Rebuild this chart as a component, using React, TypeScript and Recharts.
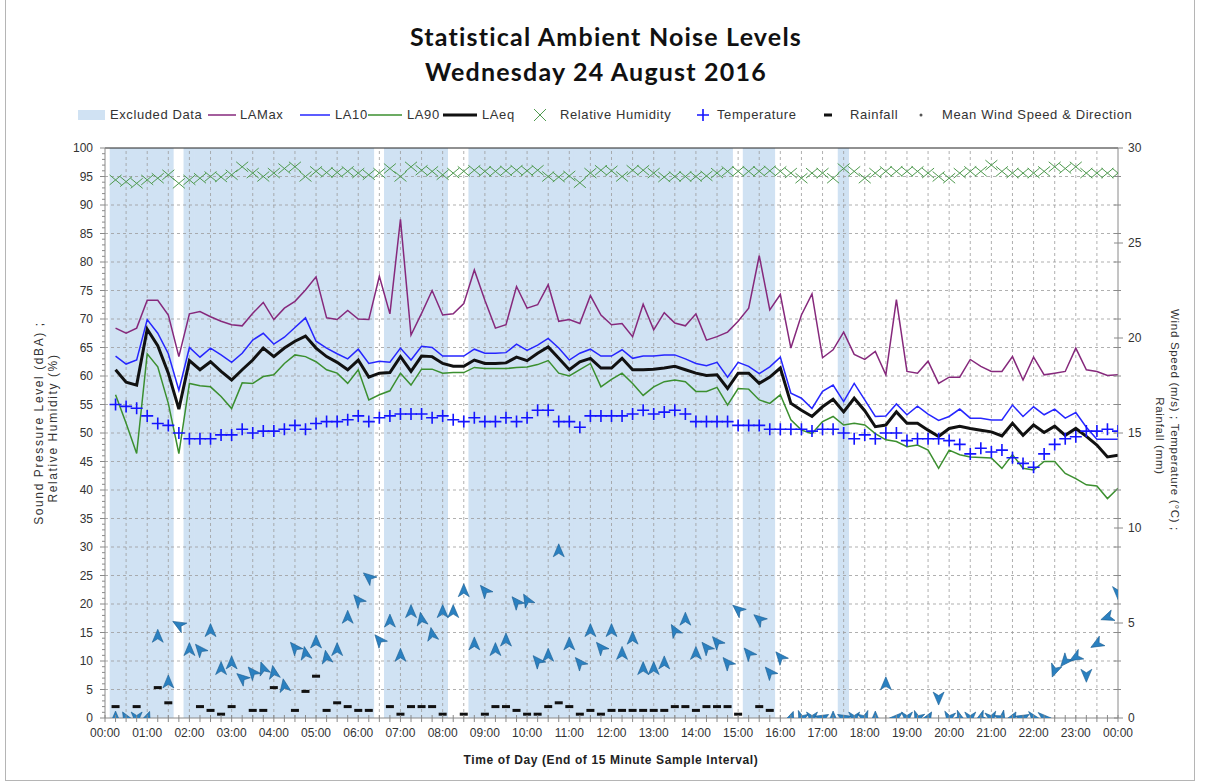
import React from 'react';
import { ComposedChart, Line, Bar, Scatter, XAxis, YAxis, ReferenceLine } from 'recharts';

// quarter-hour intervals, value stored at end of each 15 min sample (1..96)
const laMax = [
  68.4, 67.5, 68.4, 73.3, 73.3, 70.7, 63.4, 70.9, 71.3, 70.4, 69.6, 69.0, 68.8, 71.0, 72.9, 69.9,
  71.9, 73.1, 75.1, 77.4, 70.2, 69.9, 71.5, 70.0, 69.9, 77.5, 70.9, 87.5, 67.2, 71.0, 75.0, 70.7,
  70.9, 72.7, 78.6, 73.3, 68.4, 69.0, 75.7, 71.9, 72.5, 76.0, 69.6, 69.9, 69.2, 74.1, 70.7, 69.0,
  69.2, 66.9, 72.6, 68.1, 71.1, 69.3, 68.8, 70.9, 66.3, 66.9, 67.7, 69.6, 71.9, 81.1, 71.6, 74.3,
  64.9, 70.7, 74.4, 63.2, 64.6, 67.7, 63.8, 62.9, 64.3, 60.2, 73.4, 60.8, 60.5, 62.6, 58.7, 59.8,
  59.8, 62.9, 61.7, 60.8, 60.8, 63.4, 59.3, 63.3, 60.2, 60.5, 60.8, 64.9, 61.1, 60.8, 60.1, 60.2,
];
const la10 = [
  63.5, 62.1, 62.8, 69.9, 67.5, 63.9, 57.5, 65.0, 63.3, 64.9, 63.7, 62.4, 64.0, 66.3, 67.5, 65.6,
  66.8, 68.5, 70.2, 66.1, 64.9, 63.9, 63.0, 64.7, 62.2, 62.6, 62.4, 64.9, 62.8, 65.2, 65.0, 63.5,
  63.5, 63.5, 64.7, 64.0, 64.0, 64.1, 65.6, 64.5, 65.4, 66.6, 64.9, 62.8, 64.0, 64.7, 63.5, 63.5,
  64.6, 63.1, 63.5, 63.5, 63.7, 63.7, 63.0, 62.2, 61.8, 62.4, 59.8, 62.4, 61.7, 60.4, 61.6, 63.3,
  57.0, 56.1, 54.3, 57.3, 58.4, 55.5, 58.7, 55.8, 52.9, 53.0, 55.1, 53.2, 54.7, 53.3, 52.2, 52.9,
  54.2, 52.6, 52.6, 52.3, 52.3, 54.9, 52.9, 54.6, 53.2, 54.2, 52.6, 53.6, 51.0, 48.9, 48.9, 48.9,
];
const la90 = [
  56.7, 51.7, 46.4, 63.9, 61.6, 55.2, 46.4, 58.7, 58.3, 58.1, 56.4, 54.3, 58.8, 58.7, 59.9, 60.2,
  62.2, 63.7, 63.4, 62.5, 61.1, 60.5, 58.7, 61.1, 55.8, 56.7, 57.4, 60.5, 58.4, 61.2, 61.2, 60.5,
  60.6, 60.6, 61.5, 61.3, 61.3, 61.3, 61.5, 61.6, 62.0, 62.7, 60.5, 60.0, 61.1, 62.2, 58.1, 59.4,
  60.5, 58.7, 56.6, 58.1, 59.0, 59.3, 59.0, 57.3, 57.3, 58.0, 54.9, 57.8, 57.7, 55.8, 55.2, 56.7,
  52.3, 50.5, 49.9, 52.0, 52.9, 51.4, 51.7, 51.4, 49.9, 48.8, 48.5, 47.6, 47.9, 47.0, 43.8, 47.0,
  46.2, 45.8, 45.7, 45.6, 43.8, 46.2, 43.8, 43.5, 45.0, 45.0, 42.9, 42.0, 40.9, 40.7, 38.5, 40.3,
];
const laEq = [
  61.1, 58.9, 58.4, 68.2, 65.3, 60.5, 54.2, 62.7, 61.1, 62.5, 60.8, 59.3, 61.1, 62.8, 64.9, 63.4,
  64.9, 66.1, 67.0, 64.9, 63.4, 62.4, 61.1, 62.8, 59.8, 60.5, 60.6, 63.4, 60.8, 63.5, 63.4, 62.2,
  61.7, 61.7, 62.8, 62.2, 62.2, 62.3, 63.3, 62.7, 64.0, 65.1, 63.1, 61.1, 62.5, 63.1, 61.4, 61.4,
  63.1, 61.1, 61.1, 61.2, 61.4, 61.7, 61.1, 60.5, 60.1, 60.2, 57.8, 60.5, 60.5, 58.7, 59.8, 61.4,
  55.2, 54.0, 52.9, 54.6, 55.9, 53.7, 56.1, 53.9, 51.1, 51.4, 53.7, 51.7, 51.7, 50.5, 49.4, 50.8,
  51.2, 50.8, 50.5, 50.2, 49.5, 51.7, 49.6, 51.4, 50.1, 51.2, 49.6, 50.8, 49.4, 47.9, 45.8, 46.1,
];
const humidity = [
  94.4, 94.1, 93.8, 94.4, 94.7, 95.3, 93.8, 94.4, 94.7, 95.0, 94.9, 95.3, 96.7, 95.6, 95.0, 95.6,
  96.4, 96.7, 95.0, 95.9, 95.7, 95.7, 95.9, 95.6, 95.3, 95.6, 96.4, 95.0, 96.7, 96.1, 95.9, 95.3,
  95.6, 95.9, 96.1, 95.9, 95.9, 96.0, 96.1, 96.0, 96.1, 95.0, 94.9, 95.1, 93.9, 95.6, 96.1, 96.0,
  95.0, 96.1, 96.1, 95.6, 94.9, 95.0, 95.0, 95.0, 95.1, 95.6, 95.9, 95.9, 95.9, 95.9, 96.0, 95.9,
  95.6, 94.7, 95.6, 95.6, 94.7, 96.4, 95.9, 94.7, 95.6, 95.9, 95.9, 95.9, 95.9, 95.6, 95.0, 94.7,
  95.6, 95.9, 95.9, 97.0, 95.9, 95.6, 95.6, 95.6, 95.9, 96.7, 96.4, 96.7, 95.6, 95.6, 95.6, 95.6,
];
const temperature = [
  16.5, 16.4, 16.3, 15.9, 15.5, 15.4, 15.0, 14.7, 14.7, 14.7, 14.9, 14.9, 15.2, 15.0, 15.1, 15.1,
  15.2, 15.4, 15.2, 15.5, 15.6, 15.6, 15.7, 15.9, 15.6, 15.8, 15.9, 16.0, 16.0, 16.0, 15.8, 15.9,
  15.7, 15.6, 15.8, 15.6, 15.6, 15.8, 15.6, 15.8, 16.2, 16.2, 15.6, 15.6, 15.3, 15.9, 15.9, 15.9,
  15.9, 16.0, 16.2, 16.0, 16.1, 16.2, 16.0, 15.6, 15.6, 15.6, 15.6, 15.4, 15.4, 15.4, 15.2, 15.2,
  15.2, 15.2, 15.1, 15.2, 15.2, 15.0, 14.7, 14.9, 14.7, 15.0, 15.0, 14.6, 14.7, 14.7, 14.7, 14.6,
  14.4, 13.9, 14.2, 14.0, 14.1, 13.7, 13.4, 13.2, 13.9, 14.4, 14.7, 14.8, 15.1, 15.1, 15.2, 15.1,
];
const windSpeed = [
  0, 0, 0, 0, 4.3, 1.9, 4.9, 3.6, 3.6, 4.6, 2.6, 2.9, 2.1, 2.4, 2.6, 2.4,
  1.7, 3.7, 3.4, 4.0, 3.2, 3.6, 5.3, 6.2, 7.4, 4.1, 5.1, 3.3, 5.6, 5.2, 4.4, 5.6,
  5.6, 6.7, 3.9, 6.7, 3.6, 4.1, 6.1, 6.2, 3.0, 3.3, 8.8, 3.9, 2.9, 4.6, 3.7, 4.6,
  3.4, 4.2, 2.6, 2.6, 2.9, 4.6, 5.2, 3.4, 3.7, 4.0, 2.9, 5.7, 3.4, 5.2, 2.4, 3.2,
  0, 0, 0, 0, 0, 0, 0, 0, 0, 1.8, 0, 0, 0, 0, 1.05, 0,
  0, 0, 0, 0, 0, 0, 0, 0, 0, 2.5, 3.0, 3.2, 2.25, 3.9, 5.3, 6.6,
];
// direction the arrow points, degrees clockwise from up
const windDir = [
  0, 330, 180, 20, 0, 0, 300, 0, 320, 0, 0, 0, 310, 320, 340, 350,
  350, 320, 350, 0, 350, 0, 0, 320, 310, 320, 0, 0, 0, 350, 350, 0,
  0, 0, 0, 320, 0, 0, 320, 330, 320, 0, 0, 0, 320, 0, 320, 0,
  0, 0, 0, 0, 0, 330, 0, 0, 320, 320, 320, 310, 320, 310, 320, 320,
  20, 200, 180, 60, 0, 300, 180, 160, 0, 0, 270, 180, 200, 30, 180, 190,
  120, 180, 240, 170, 150, 30, 60, 100, 90, 200, 220, 240, 180, 240, 250, 180,
];
// rainfall (mm) as [interval, mm]
const rainfall: [number, number][] = [
  [1, 0.6], [3, 0.6], [5, 1.6], [6, 0.8], [9, 0.6], [10, 0.4], [11, 0.2], [12, 0.6],
  [14, 0.4], [15, 0.4], [16, 1.6], [18, 0.4], [19, 1.4], [20, 2.2], [21, 0.4], [22, 0.8],
  [23, 0.6], [24, 0.4], [25, 0.4], [27, 0.6], [28, 0.2], [29, 0.6], [30, 0.6], [31, 0.6],
  [32, 0.2], [34, 0.2], [36, 0.2], [37, 0.6], [38, 0.6], [39, 0.4], [40, 0.2], [41, 0.2],
  [42, 0.6], [43, 0.8], [44, 0.6], [45, 0.2], [46, 0.4], [47, 0.2], [48, 0.4], [49, 0.4],
  [50, 0.4], [51, 0.4], [52, 0.4], [53, 0.4], [54, 0.6], [55, 0.6], [56, 0.4], [57, 0.6],
  [58, 0.6], [59, 0.6], [60, 0.2], [62, 0.6], [63, 0.4],
];
// intervals flagged as excluded data
const excluded = [
  1, 2, 3, 4, 5, 6, 8, 9, 10, 11, 12, 13, 14, 15, 16, 17, 18, 19, 20, 21, 22, 23, 24, 25,
  27, 28, 29, 30, 31, 32, 35, 36, 37, 38, 39, 40, 41, 42, 43, 44, 45, 46, 47, 48, 49, 50,
  51, 52, 53, 54, 55, 56, 57, 58, 59, 61, 62, 63, 70,
];

const hourLabels = [
  '00:00', '01:00', '02:00', '03:00', '04:00', '05:00', '06:00', '07:00', '08:00', '09:00',
  '10:00', '11:00', '12:00', '13:00', '14:00', '15:00', '16:00', '17:00', '18:00', '19:00',
  '20:00', '21:00', '22:00', '23:00', '00:00',
];
const leftMajor = [0, 5, 10, 15, 20, 25, 30, 35, 40, 45, 50, 55, 60, 65, 70, 75, 80, 85, 90, 95, 100];
const rightMajor = [0, 5, 10, 15, 20, 25, 30];

const C = {
  band: '#d0e2f3',
  laMax: '#86297c',
  la10: '#2626ff',
  la90: '#3b8f2f',
  laEq: '#111111',
  rh: '#4f9a4f',
  temp: '#1414ff',
  wind: '#2a80c0',
  grid: '#9c9c9c',
  axis: '#8a8a8a',
  text: '#333333',
};
const FONT = "'Liberation Sans', Arial, sans-serif";

const rows = laMax.map((v, k) => ({
  i: k + 1,
  laMax: v,
  la10: la10[k],
  la90: la90[k],
  laEq: laEq[k],
  excl: excluded.includes(k + 1) ? 100 : null,
}));
const rhPoints = humidity.map((v, k) => ({ i: k + 1, rh: v }));
const tempPoints = temperature.map((v, k) => ({ i: k + 1, temp: v }));
const windPoints = windSpeed.map((v, k) => ({ i: k + 1, wind: v, dir: windDir[k] }));
const rainPoints = rainfall.map(([i, mm]) => ({ i, rain: mm }));

const quarterTicks = rows.map((r) => r.i).concat([0]).sort((a, b) => a - b);
const halfHours = quarterTicks.filter((q) => q % 2 === 0 && q > 0 && q < 96);
const leftTicks = Array.from({ length: 101 }, (_, k) => k);
const rightTicks = Array.from(
  new Set(rightMajor.concat(Array.from({ length: 21 }, (_, k) => +(k * 1.5).toFixed(1))))
).sort((a, b) => a - b);

function XTick({ x, y, payload }: any) {
  const q = payload.value;
  return (
    <g>
      <line x1={x} x2={x} y1={y - 3} y2={y + 4} stroke={C.axis} />
      {q % 4 === 0 && (
        <text x={x} y={y + 19} textAnchor="middle" fontSize={12} fill={C.text} fontFamily={FONT}>
          {hourLabels[q / 4]}
        </text>
      )}
    </g>
  );
}

function LeftTick({ x, y, payload }: any) {
  const v = payload.value;
  const major = v % 5 === 0;
  return (
    <g>
      <line x1={x - (major ? 5 : 3)} x2={x} y1={y} y2={y} stroke={C.axis} />
      {major && (
        <text x={x - 12} y={y + 4} textAnchor="end" fontSize={12} fill={C.text} fontFamily={FONT}>
          {v}
        </text>
      )}
    </g>
  );
}

function RightTick({ x, y, payload }: any) {
  const v = payload.value;
  const major = rightMajor.includes(v);
  return (
    <g>
      <line x1={x - 4} x2={x + (major ? 5 : 3)} y1={y} y2={y} stroke={C.axis} />
      {major && (
        <text x={x + 10} y={y + 4} textAnchor="start" fontSize={12} fill={C.text} fontFamily={FONT}>
          {v}
        </text>
      )}
    </g>
  );
}

// excluded-interval column, widened a touch so neighbours join up
function BandBar({ x, y, width, height }: any) {
  if (x == null || !height) return <g />;
  return <rect x={x - 0.6} y={y} width={width + 1.2} height={height} fill={C.band} />;
}

function CrossMark({ cx, cy }: any) {
  if (cx == null || cy == null) return <g />;
  return (
    <path
      d={`M${cx - 6},${cy - 5}L${cx + 6},${cy + 5}M${cx - 6},${cy + 5}L${cx + 6},${cy - 5}`}
      stroke={C.rh}
      strokeWidth={1}
      fill="none"
    />
  );
}

function PlusMark({ cx, cy }: any) {
  if (cx == null || cy == null) return <g />;
  return (
    <path
      d={`M${cx - 6},${cy}L${cx + 6},${cy}M${cx},${cy - 6}L${cx},${cy + 6}`}
      stroke={C.temp}
      strokeWidth={1.6}
      fill="none"
    />
  );
}

function RainMark({ cx, cy }: any) {
  if (cx == null || cy == null) return <g />;
  return <rect x={cx - 4} y={cy - 1.5} width={8} height={3} fill="#111" />;
}

function WindArrow({ cx, cy, payload }: any) {
  if (cx == null || cy == null) return <g />;
  return (
    <path
      d="M0,-7 L5.5,6 L0,2.5 L-5.5,6 Z"
      transform={`translate(${cx},${cy}) rotate(${payload.dir})`}
      fill={C.wind}
      stroke="#1d5f93"
      strokeWidth={0.6}
    />
  );
}

function Legend() {
  const ty = 119;
  const t = (x: number, s: string) => (
    <text x={x} y={ty} fontSize={13} letterSpacing={0.6} fill={C.text} fontFamily={FONT}>
      {s}
    </text>
  );
  return (
    <svg width={1206} height={40} style={{ position: 'absolute', left: 0, top: 95 }} viewBox="0 95 1206 40">
      <rect x={78} y={110} width={27} height={10} fill={C.band} />
      {t(110, 'Excluded Data')}
      <line x1={208} x2={236} y1={115} y2={115} stroke={C.laMax} strokeWidth={1.5} />
      {t(240, 'LAMax')}
      <line x1={300} x2={330} y1={115} y2={115} stroke={C.la10} strokeWidth={1.5} />
      {t(335, 'LA10')}
      <line x1={368} x2={402} y1={115} y2={115} stroke={C.la90} strokeWidth={1.5} />
      {t(407, 'LA90')}
      <line x1={443} x2={477} y1={115} y2={115} stroke={C.laEq} strokeWidth={3} />
      {t(482, 'LAeq')}
      <path d="M534,109L546,121M534,121L546,109" stroke={C.rh} strokeWidth={1} />
      {t(560, 'Relative Humidity')}
      <path d="M697,115L709,115M703,109L703,121" stroke={C.temp} strokeWidth={1.6} />
      {t(717, 'Temperature')}
      <rect x={824} y={113.5} width={8} height={3} fill="#111" />
      {t(850, 'Rainfall')}
      <circle cx={921} cy={115} r={1.5} fill="#555" />
      {t(942, 'Mean Wind Speed & Direction')}
    </svg>
  );
}

export default function App() {
  return (
    <div
      style={{
        position: 'absolute',
        left: 0,
        top: 0,
        width: 1206,
        height: 784,
        background: '#fff',
        fontFamily: FONT,
        overflow: 'hidden',
      }}
    >
      <div
        style={{
          position: 'absolute',
          left: 5,
          top: -2,
          width: 1190,
          height: 783,
          border: '1px solid #b5b5b5',
          boxSizing: 'border-box',
        }}
      />
      <div
        style={{
          position: 'absolute',
          left: 0,
          width: 1206,
          top: 19,
          textAlign: 'center',
          fontFamily: "Lato, 'Open Sans', sans-serif",
          fontWeight: 700,
          fontSize: 25,
          letterSpacing: 1.2,
          lineHeight: '35px',
          color: '#111',
        }}
      >
        <div style={{ paddingLeft: 6 }}>Statistical Ambient Noise Levels</div>
        <div style={{ paddingRight: 14 }}>Wednesday 24 August 2016</div>
      </div>
      <Legend />
      <div style={{ position: 'absolute', left: 0, top: 0 }}>
        <ComposedChart
          width={1206}
          height={784}
          data={rows}
          margin={{ top: 148, right: 48, bottom: 36, left: 55 }}
        >
          <XAxis
            dataKey="i"
            type="number"
            domain={[0, 96]}
            ticks={quarterTicks}
            interval={0}
            tickSize={0}
            tickMargin={0}
            tickLine={false}
            tick={<XTick />}
            height={30}
            stroke={C.axis}
            allowDataOverflow
          />
          <YAxis
            yAxisId="left"
            domain={[0, 100]}
            ticks={leftTicks}
            interval={0}
            tickSize={0}
            tickMargin={0}
            tickLine={false}
            tick={<LeftTick />}
            width={50}
            stroke={C.axis}
            allowDataOverflow
          />
          <YAxis
            yAxisId="right"
            orientation="right"
            domain={[0, 30]}
            ticks={rightTicks}
            interval={0}
            tickSize={0}
            tickMargin={0}
            tickLine={false}
            tick={<RightTick />}
            width={40}
            stroke={C.axis}
            allowDataOverflow
          />
          <Bar
            yAxisId="left"
            dataKey="excl"
            barSize={10}
            fill={C.band}
            shape={<BandBar />}
            isAnimationActive={false}
          />
          {leftMajor
            .filter((v) => v > 0 && v < 100)
            .map((v) => (
              <ReferenceLine key={'h' + v} yAxisId="left" y={v} stroke={C.grid} strokeDasharray="3 3" strokeOpacity={0.8} />
            ))}
          {halfHours.map((q) => (
            <ReferenceLine key={'v' + q} yAxisId="left" x={q} stroke={C.grid} strokeDasharray="3 3" strokeOpacity={0.8} />
          ))}
          <ReferenceLine yAxisId="left" y={100} stroke="#222" />
          <Line yAxisId="left" dataKey="laMax" stroke={C.laMax} strokeWidth={1.5} dot={false} isAnimationActive={false} />
          <Line yAxisId="left" dataKey="la90" stroke={C.la90} strokeWidth={1.5} dot={false} isAnimationActive={false} />
          <Line yAxisId="left" dataKey="la10" stroke={C.la10} strokeWidth={1.5} dot={false} isAnimationActive={false} />
          <Line yAxisId="left" dataKey="laEq" stroke={C.laEq} strokeWidth={3} dot={false} isAnimationActive={false} />
          <Scatter yAxisId="left" data={rhPoints} dataKey="rh" shape={<CrossMark />} isAnimationActive={false} />
          <Scatter yAxisId="right" data={tempPoints} dataKey="temp" shape={<PlusMark />} isAnimationActive={false} />
          <Scatter yAxisId="right" data={rainPoints} dataKey="rain" shape={<RainMark />} isAnimationActive={false} />
          <Scatter yAxisId="right" data={windPoints} dataKey="wind" shape={<WindArrow />} isAnimationActive={false} />
        </ComposedChart>
      </div>
      <svg width={1206} height={784} style={{ position: 'absolute', left: 0, top: 0, pointerEvents: 'none' }}>
        <g fontFamily={FONT} fill={C.text} fontSize={12}>
          <text transform="translate(43,423) rotate(-90)" textAnchor="middle" letterSpacing={1.6}>
            Sound Pressure Level (dBA) ;
          </text>
          <text transform="translate(57,428) rotate(-90)" textAnchor="middle" letterSpacing={1.6}>
            Relative Humidity (%)
          </text>
          <text transform="translate(1171,420) rotate(90)" textAnchor="middle" fontSize={11.5} letterSpacing={0.7}>
            Wind Speed (m/s) ; Temperature (°C) ;
          </text>
          <text transform="translate(1156,436) rotate(90)" textAnchor="middle" fontSize={11.5} letterSpacing={0.7}>
            Rainfall (mm)
          </text>
          <text x={611} y={764} textAnchor="middle" fontWeight={700} fontSize={12} letterSpacing={0.6} fill="#222">
            Time of Day (End of 15 Minute Sample Interval)
          </text>
        </g>
      </svg>
    </div>
  );
}
